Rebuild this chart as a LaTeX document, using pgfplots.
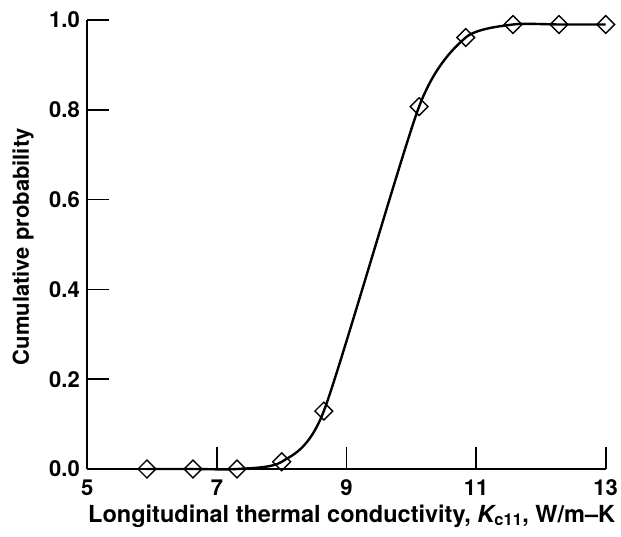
\documentclass[border=0pt]{standalone}
\usepackage{fontspec}
\setmainfont{TeX Gyre Heros}
\usepackage{pgfplots}
\pgfplotsset{compat=1.18}
\begin{document}
\begin{tikzpicture}
\begin{axis}[
  scale only axis,
  width=518.4pt, height=449pt,
  xmin=5, xmax=13, ymin=0, ymax=1,
  axis lines=left,
  axis line style={-, line width=1.6pt},
  every tick/.style={line width=1.6pt, black},
  tick align=inside,
  major tick length=22pt,
  xtick={5,7,9,11,13},
  ytick={0,0.2,0.4,0.6,0.8,1.0},
  clip=false,
  /pgf/number format/assume math mode=true,
  yticklabel style={xshift=-4pt, /pgf/number format/fixed, /pgf/number format/fixed zerofill, /pgf/number format/precision=1},
  tick label style={font=\fontsize{22}{24}\selectfont\bfseries},
  xticklabel style={yshift=-7pt},
  xlabel={Longitudinal thermal conductivity, {\itshape K}\textsubscript{c11}, W/m--K},
  ylabel={Cumulative probability},
  xlabel style={font=\fontsize{23.5}{26}\selectfont\bfseries, at={(axis description cs:0.51,0)}, anchor=north, yshift=-32pt},
  ylabel style={font=\fontsize{22}{24}\selectfont\bfseries, at={(axis description cs:0,0.495)}, anchor=south, yshift=50pt},
]
\addplot[black, line width=2.4pt, smooth, tension=0.4,
  mark=square, mark size=6.3pt, mark options={rotate=45, fill=white, line width=1.4pt, solid}]
  coordinates {
  (5.92,0.0) (6.63,0.0) (7.31,0.0) (8.00,0.016) (8.65,0.129)
  (10.12,0.807) (10.84,0.961) (11.57,0.990) (12.28,0.990) (13.0,0.990)
  };
\end{axis}
\pgfresetboundingbox
\path ([shift={(-87.3pt,-67pt)}]current axis.south west) rectangle ([shift={(15.3pt,20pt)}]current axis.north east);
\end{tikzpicture}
\end{document}
